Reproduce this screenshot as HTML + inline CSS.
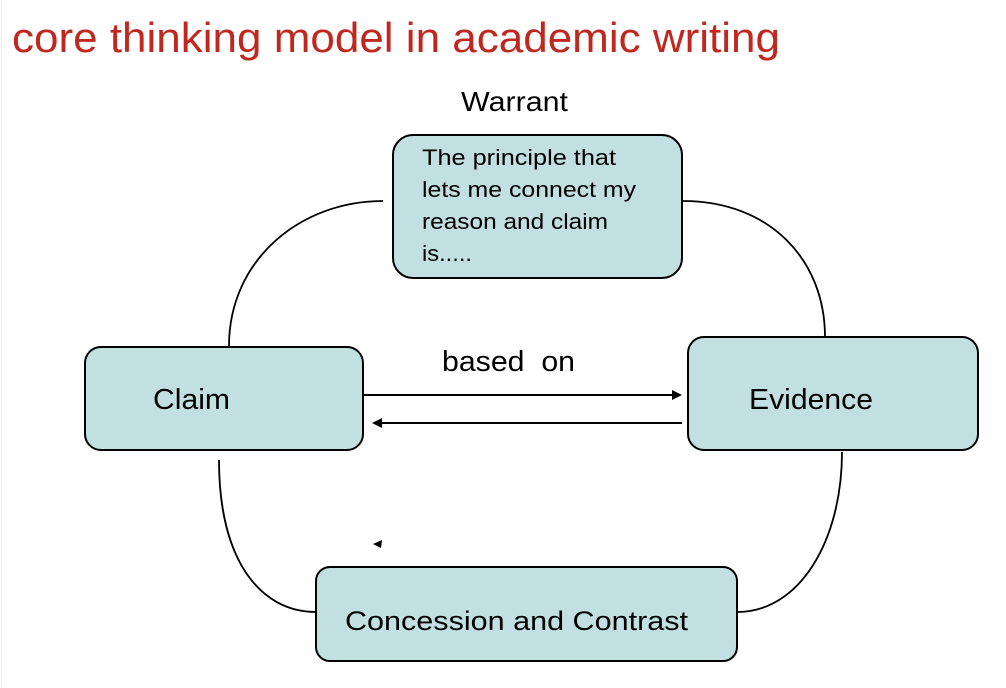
<!DOCTYPE html>
<html><head><meta charset="utf-8"><style>
html,body{margin:0;padding:0;background:#fff;width:1006px;height:688px;overflow:hidden}
svg{display:block}
</style></head><body>
<svg width="1006" height="688" viewBox="0 0 1006 688" xmlns="http://www.w3.org/2000/svg" font-family="Liberation Sans, sans-serif">
<rect x="0" y="0" width="1006" height="688" fill="#fff"/>
<line x1="1.5" y1="0" x2="1.5" y2="688" stroke="#eee" stroke-width="1"/>
<text x="12" y="52" font-size="42" fill="#c0281f" textLength="768" lengthAdjust="spacingAndGlyphs">core thinking model in academic writing</text>
<text x="461" y="111" font-size="28" fill="#000" textLength="107" lengthAdjust="spacingAndGlyphs">Warrant</text>
<g fill="none" stroke="#000" stroke-width="1.8">
<path d="M229,346 C229,260 300,201 383,201"/>
<path d="M683,201 C770,201 825,260 825,337"/>
<path d="M842,452 C842,540 800,612 737,612"/>
<path d="M219,460 C219,560 260,612 316,612"/>
</g>
<g fill="#c2e0e2" stroke="#000" stroke-width="2">
<rect x="393" y="135" width="289" height="143" rx="20"/>
<rect x="85" y="347" width="278" height="103" rx="16"/>
<rect x="688" y="337" width="290" height="113" rx="16"/>
<rect x="316" y="567" width="421" height="94" rx="14"/>
</g>
<g font-size="22" fill="#000">
<text x="422" y="165" textLength="194" lengthAdjust="spacingAndGlyphs">The principle that</text>
<text x="422" y="197" textLength="214" lengthAdjust="spacingAndGlyphs">lets me connect my</text>
<text x="422" y="229" textLength="186" lengthAdjust="spacingAndGlyphs">reason and claim</text>
<text x="422" y="261" textLength="50" lengthAdjust="spacingAndGlyphs">is.....</text>
</g>
<text x="153" y="409" font-size="29" fill="#000" textLength="77" lengthAdjust="spacingAndGlyphs">Claim</text>
<text x="749" y="409" font-size="29" fill="#000" textLength="124" lengthAdjust="spacingAndGlyphs">Evidence</text>
<text x="442" y="371" font-size="29" fill="#000" xml:space="preserve" textLength="133" lengthAdjust="spacingAndGlyphs">based  on</text>
<text x="345" y="630" font-size="27" fill="#000" textLength="343" lengthAdjust="spacingAndGlyphs">Concession and Contrast</text>
<g stroke="#000" stroke-width="2">
<line x1="363" y1="395" x2="674" y2="395"/>
<line x1="682" y1="423" x2="380" y2="423"/>
</g>
<g fill="#000">
<polygon points="682,395 672,390 672,400"/>
<polygon points="372,423 382,418 382,428"/>
<polygon points="373,544 382,540 381,548"/>
</g>
</svg>
</body></html>
